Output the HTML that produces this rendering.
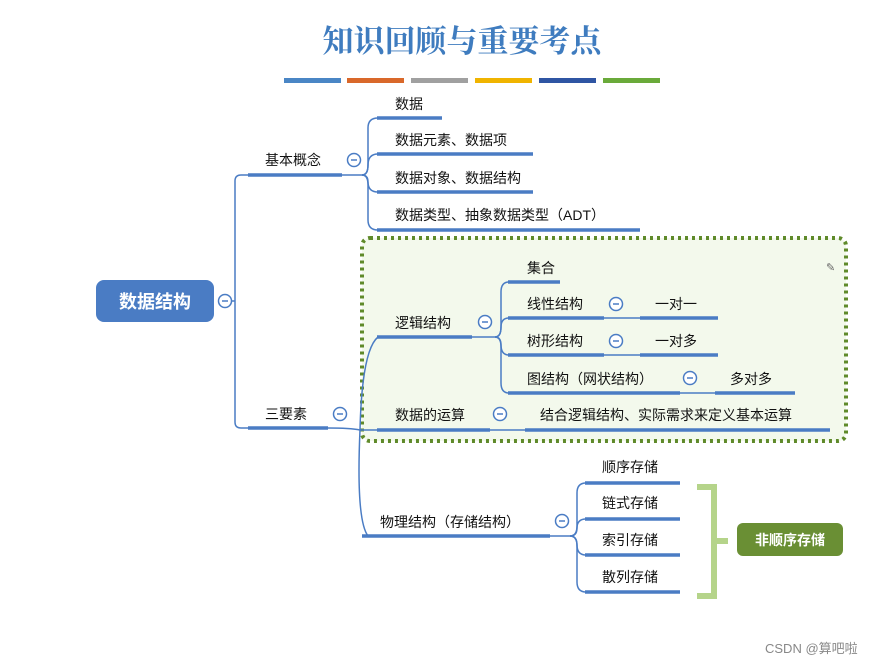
<!DOCTYPE html>
<html><head><meta charset="utf-8"><style>
body{margin:0;background:#fff;}
svg{display:block;font-family:"Liberation Sans","Noto Sans CJK SC",sans-serif;}
</style></head><body>
<svg width="880" height="664" viewBox="0 0 880 664" xmlns="http://www.w3.org/2000/svg">
<text x="462" y="52" text-anchor="middle" font-size="31" font-weight="bold" fill="#3f7cbf" font-family="'Noto Serif CJK SC','Noto Sans CJK SC',serif">知识回顾与重要考点</text>
<g>
<rect x="284" y="78" width="57" height="5" fill="#4a86c5"/>
<rect x="347" y="78" width="57" height="5" fill="#d9682a"/>
<rect x="411" y="78" width="57" height="5" fill="#a0a0a0"/>
<rect x="475" y="78" width="57" height="5" fill="#f0b400"/>
<rect x="539" y="78" width="57" height="5" fill="#2f55a3"/>
<rect x="603" y="78" width="57" height="5" fill="#6aaa3a"/>
</g>
<rect x="362" y="238" width="484" height="203" rx="8" fill="#f3f9ec" stroke="#5f8a2a" stroke-width="4" stroke-dasharray="3,4"/>
<g fill="none" stroke="#4a7cc4" stroke-width="1.5">
<path d="M231 301 H235"/>
<path d="M248 175 H241 Q235 175 235 181 V422 Q235 428 241 428 H248"/>
<path d="M342 175 H362"/>
<path d="M362 175 Q368 175 368 165 V128 Q368 118 378 118"/>
<path d="M362 175 Q368 175 368 165 Q368 154 378 154"/>
<path d="M362 175 Q368 175 368 182 Q368 192 378 192"/>
<path d="M362 175 Q368 175 368 185 V220 Q368 230 378 230"/>
<path d="M328 428 Q350 428 360 430 H378"/>
<path d="M360 430 Q362 350 378 337"/>
<path d="M360 430 Q356 520 368 536 H378"/>
<path d="M472 337 H495"/>
<path d="M495 337 Q501 337 501 327 V292 Q501 282 509 282"/>
<path d="M495 337 Q501 337 501 327 Q501 318 509 318"/>
<path d="M495 337 Q501 337 501 345 Q501 355 509 355"/>
<path d="M495 337 Q501 337 501 347 V383 Q501 393 509 393"/>
<path d="M604 318 H640"/><path d="M604 355 H640"/><path d="M680 393 H715"/>
<path d="M490 430 H525"/>
<path d="M550 536 H570"/>
<path d="M570 536 Q577 536 577 526 V493 Q577 483 586 483"/>
<path d="M570 536 Q577 536 577 528 Q577 519 586 519"/>
<path d="M570 536 Q577 536 577 545 Q577 555 586 555"/>
<path d="M570 536 Q577 536 577 546 V582 Q577 592 586 592"/>
</g>
<g stroke="#4a7cc4" stroke-width="3.5">
<path d="M248 175 H342"/><path d="M248 428 H328"/>
<path d="M377 118 H442"/><path d="M377 154 H533"/><path d="M377 192 H533"/><path d="M377 230 H640"/>
<path d="M377 337 H472"/><path d="M377 430 H490"/><path d="M525 430 H830"/><path d="M362 536 H550"/>
<path d="M508 282 H560"/><path d="M508 318 H604"/><path d="M508 355 H604"/><path d="M508 393 H680"/>
<path d="M640 318 H718"/><path d="M640 355 H718"/><path d="M715 393 H795"/>
<path d="M585 483 H680"/><path d="M585 519 H680"/><path d="M585 555 H680"/><path d="M585 592 H680"/>
</g>
<g fill="#fff" stroke="#4a7cc4" stroke-width="1.5">
<circle cx="225" cy="301" r="6.5"/><circle cx="354" cy="160" r="6.5"/><circle cx="340" cy="414" r="6.5"/>
<circle cx="485" cy="322" r="6.5"/><circle cx="500" cy="414" r="6.5"/><circle cx="562" cy="521" r="6.5"/>
<circle cx="616" cy="304" r="6.5"/><circle cx="616" cy="341" r="6.5"/><circle cx="690" cy="378" r="6.5"/>
</g>
<g stroke="#4a7cc4" stroke-width="1.5">
<path d="M222 301h6"/><path d="M351 160h6"/><path d="M337 414h6"/><path d="M482 322h6"/><path d="M497 414h6"/><path d="M559 521h6"/><path d="M613 304h6"/><path d="M613 341h6"/><path d="M687 378h6"/>
</g>
<rect x="96" y="280" width="118" height="42" rx="8" fill="#4a7cc4"/>
<text x="155" y="308" text-anchor="middle" font-size="18" font-weight="bold" fill="#fff">数据结构</text>
<g font-size="14" fill="#111">
<text x="265" y="165">基本概念</text>
<text x="265" y="419">三要素</text>
<text x="395" y="109">数据</text>
<text x="395" y="145">数据元素、数据项</text>
<text x="395" y="183">数据对象、数据结构</text>
<text x="395" y="220">数据类型、抽象数据类型（ADT）</text>
<text x="395" y="328">逻辑结构</text>
<text x="395" y="420">数据的运算</text>
<text x="540" y="420">结合逻辑结构、实际需求来定义基本运算</text>
<text x="380" y="527">物理结构（存储结构）</text>
<text x="527" y="273">集合</text>
<text x="527" y="309">线性结构</text>
<text x="655" y="309">一对一</text>
<text x="527" y="346">树形结构</text>
<text x="655" y="346">一对多</text>
<text x="527" y="384">图结构（网状结构）</text>
<text x="730" y="384">多对多</text>
<text x="602" y="472">顺序存储</text>
<text x="602" y="508">链式存储</text>
<text x="602" y="545">索引存储</text>
<text x="602" y="582">散列存储</text>
</g>
<path d="M697 487 H714 V596 H697 M714 541 H728" fill="none" stroke="#b5d48a" stroke-width="6"/>
<rect x="737" y="523" width="106" height="33" rx="6" fill="#6a8f34"/>
<text x="790" y="545" text-anchor="middle" font-size="14" font-weight="bold" fill="#fff">非顺序存储</text>
<text x="826" y="271" font-size="11" fill="#666">✎</text>
<text x="765" y="653" font-size="13" fill="#888">CSDN @算吧啦</text>
</svg>
</body></html>
